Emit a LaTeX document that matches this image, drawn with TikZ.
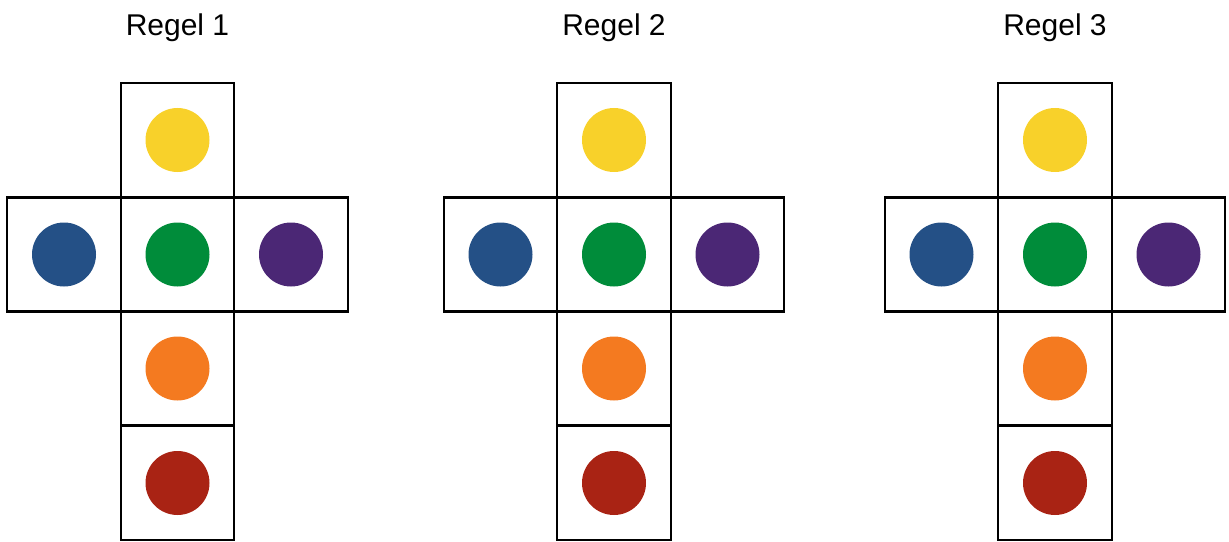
\documentclass[tikz,border=0pt]{standalone}
\usepackage{fontspec}
\setmainfont{Liberation Sans}
\definecolor{cyellow}{HTML}{F8D12A}
\definecolor{cgreen}{HTML}{008C3A}
\definecolor{cblue}{HTML}{245086}
\definecolor{cpurple}{HTML}{4B2775}
\definecolor{corange}{HTML}{F47A20}
\definecolor{cred}{HTML}{A92314}
\begin{document}
\begin{tikzpicture}[x=0.75pt,y=-0.75pt,
  cell/.style={draw=black,line width=1.6pt,minimum width=113.5*0.75pt,minimum height=114*0.75pt,inner sep=0pt,outer sep=0pt},
  dot/.style={circle,fill=#1,minimum size=64*0.75pt,inner sep=0pt},
  title/.style={font=\fontsize{22.5}{26}\selectfont}]
\useasboundingbox (0,0) rectangle (1229,542);
\foreach \cx/\n in {177.5/1,614/2,1055/3}{
  \node[title] (t\n) at (\cx,28) {Regel \n};
  \node[cell] (top\n) at (\cx,140) {};
  \node[cell] (mid\n) at (\cx,254.5) {};
  \node[cell] (lef\n) at (\cx-113.5,254.5) {};
  \node[cell] (rig\n) at (\cx+113.5,254.5) {};
  \node[cell] (low\n) at (\cx,368.5) {};
  \node[cell] (bot\n) at (\cx,483) {};
  \node[dot=cyellow] (dy\n) at (top\n) {};
  \node[dot=cgreen] (dg\n) at (mid\n) {};
  \node[dot=cblue] (db\n) at (lef\n) {};
  \node[dot=cpurple] (dp\n) at (rig\n) {};
  \node[dot=corange] (do\n) at (low\n) {};
  \node[dot=cred] (dr\n) at (bot\n) {};
}
\end{tikzpicture}
\end{document}
